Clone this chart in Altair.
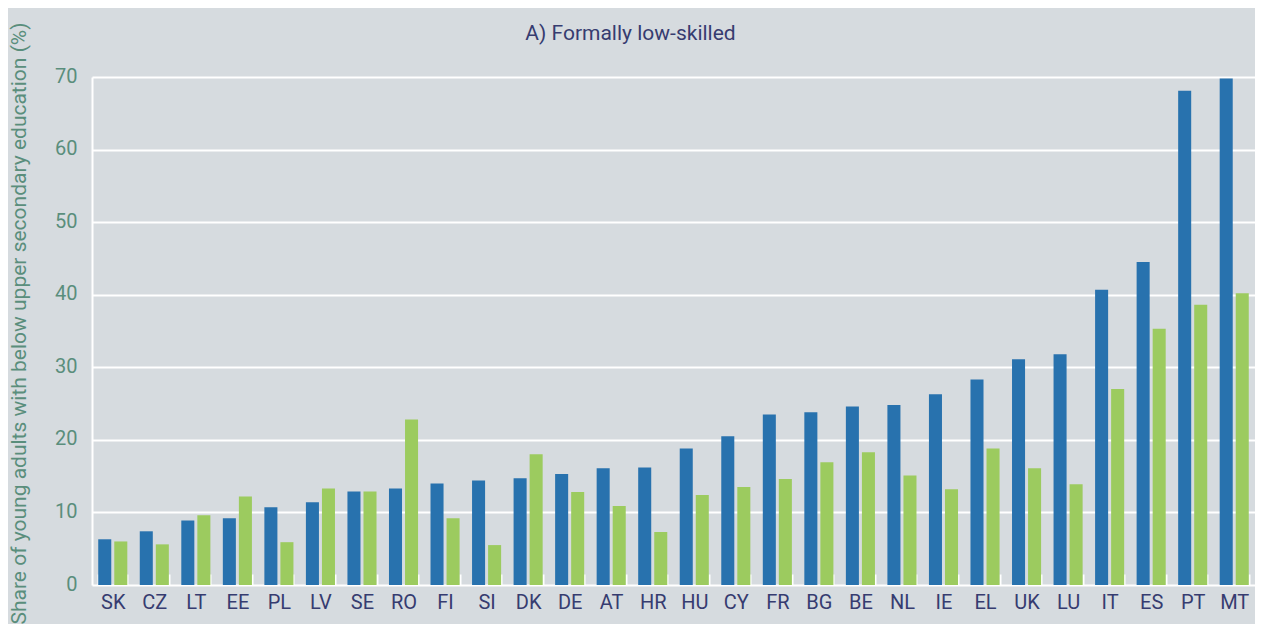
import altair as alt
import pandas as pd

countries = ["SK", "CZ", "LT", "EE", "PL", "LV", "SE", "RO", "FI", "SI", "DK", "DE", "AT", "HR",
             "HU", "CY", "FR", "BG", "BE", "NL", "IE", "EL", "UK", "LU", "IT", "ES", "PT", "MT"]
series_names = ["Series 1", "Series 2"]
series1 = [6.3, 7.4, 8.9, 9.2, 10.7, 11.4, 12.9, 13.3, 14.0, 14.4, 14.7, 15.3, 16.1, 16.2,
           18.8, 20.5, 23.5, 23.8, 24.6, 24.8, 26.3, 28.3, 31.1, 31.8, 40.7, 44.5, 68.1, 69.8]
series2 = [6.0, 5.6, 9.6, 12.2, 5.9, 13.3, 12.9, 22.8, 9.2, 5.5, 18.0, 12.8, 10.9, 7.3,
           12.4, 13.5, 14.6, 16.9, 18.3, 15.1, 13.2, 18.8, 16.1, 13.9, 27.0, 35.3, 38.6, 40.2]
y_ticks = [0, 10, 20, 30, 40, 50, 60, 70]

rows = []
for c, a, b in zip(countries, series1, series2):
    rows.append({"country": c, "series": series_names[0], "value": a})
    rows.append({"country": c, "series": series_names[1], "value": b})
df = pd.DataFrame(rows)

FONT = "Roboto"
BG = "#d6dbdf"
BLUE = "#2872ae"
GREEN = "#9ccb5f"
NAVY = "#363c70"
TEAL = "#5a8e7c"

chart = (
    alt.Chart(df)
    .mark_bar()
    .encode(
        x=alt.X(
            "country:N",
            sort=countries,
            scale=alt.Scale(paddingInner=0.3, paddingOuter=0.15),
            axis=alt.Axis(
                title=None,
                labelAngle=0,
                labelFont=FONT,
                labelFontSize=20,
                labelColor=NAVY,
                labelPadding=7,
                tickBand="extent",
                tickSize=11,
                tickColor="white",
                tickWidth=2,
                domain=False,
                offset=-11,
            ),
        ),
        xOffset=alt.XOffset(
            "series:N",
            sort=series_names,
            scale=alt.Scale(paddingInner=0.1875, paddingOuter=0),
        ),
        y=alt.Y(
            "value:Q",
            scale=alt.Scale(domain=[0, 70], nice=False),
            axis=alt.Axis(
                title="Share of young adults with below upper secondary education (%)",
                titleFont=FONT,
                titleFontSize=21,
                titleFontWeight="normal",
                titleColor=TEAL,
                titleX=-73,
                titleY=246,
                titleAngle=-90,
                titleAlign="center",
                titleBaseline="middle",
                values=y_ticks,
                labelFont=FONT,
                labelFontSize=20,
                labelColor=TEAL,
                labelPadding=15,
                labelBaseline="middle",
                labelOffset=-1,
                ticks=False,
                grid=True,
                gridColor="white",
                gridWidth=2,
                domainColor="white",
                domainWidth=2,
            ),
        ),
        color=alt.Color(
            "series:N",
            sort=series_names,
            scale=alt.Scale(domain=series_names, range=[BLUE, GREEN]),
            legend=None,
        ),
    )
    .properties(
        width=1163,
        height=508,
        padding={"left": 84, "top": 69, "right": 0, "bottom": 39},
        autosize=alt.AutoSizeParams(type="none"),
        title=alt.Title(
            "A) Formally low-skilled",
            anchor="middle",
            frame="group",
            font=FONT,
            fontSize=21,
            fontWeight="normal",
            color=NAVY,
            offset=8,
            dx=-43,
            dy=30,
        ),
    )
    .configure(background=BG)
    .configure_view(fill=BG, strokeWidth=0)
)

chart.save("out.html", embed_options={"renderer": "svg", "actions": False})
